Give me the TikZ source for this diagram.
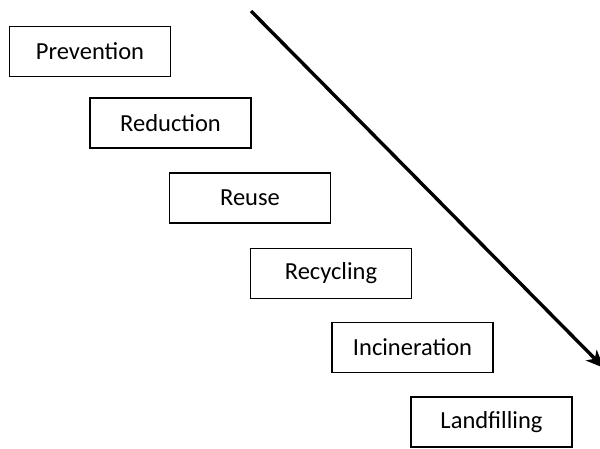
\documentclass[tikz,border=0pt]{standalone}
\usepackage{fontspec}
\setmainfont{Carlito}
\usetikzlibrary{arrows.meta}
\begin{document}
\begin{tikzpicture}[x=1pt,y=-1pt,
  stagebox/.style={draw=black,line width=1.4pt,minimum width=161pt,minimum height=50pt,inner sep=0pt,font=\fontsize{24.5pt}{28pt}\selectfont},
  flow/.style={line width=3.4pt,-{Stealth[length=18pt,width=15pt,inset=5pt]}}]
\useasboundingbox (0,0) rectangle (600,448);
\node[stagebox] (prev) at (90,51.5) {Prevention};
\node[stagebox] (red) at (170.5,123) {Reduction};
\node[stagebox] (reuse) at (250,198) {Reuse};
\node[stagebox] (recy) at (331,273.5) {Recycling};
\node[stagebox] (inc) at (412.5,347.5) {Incineration};
\node[stagebox] (land) at (491.5,422) {Landfilling};
\coordinate (astart) at (251,11);
\coordinate (aend) at (604,368);
\draw[flow] (astart) -- (aend);
\end{tikzpicture}
\end{document}
